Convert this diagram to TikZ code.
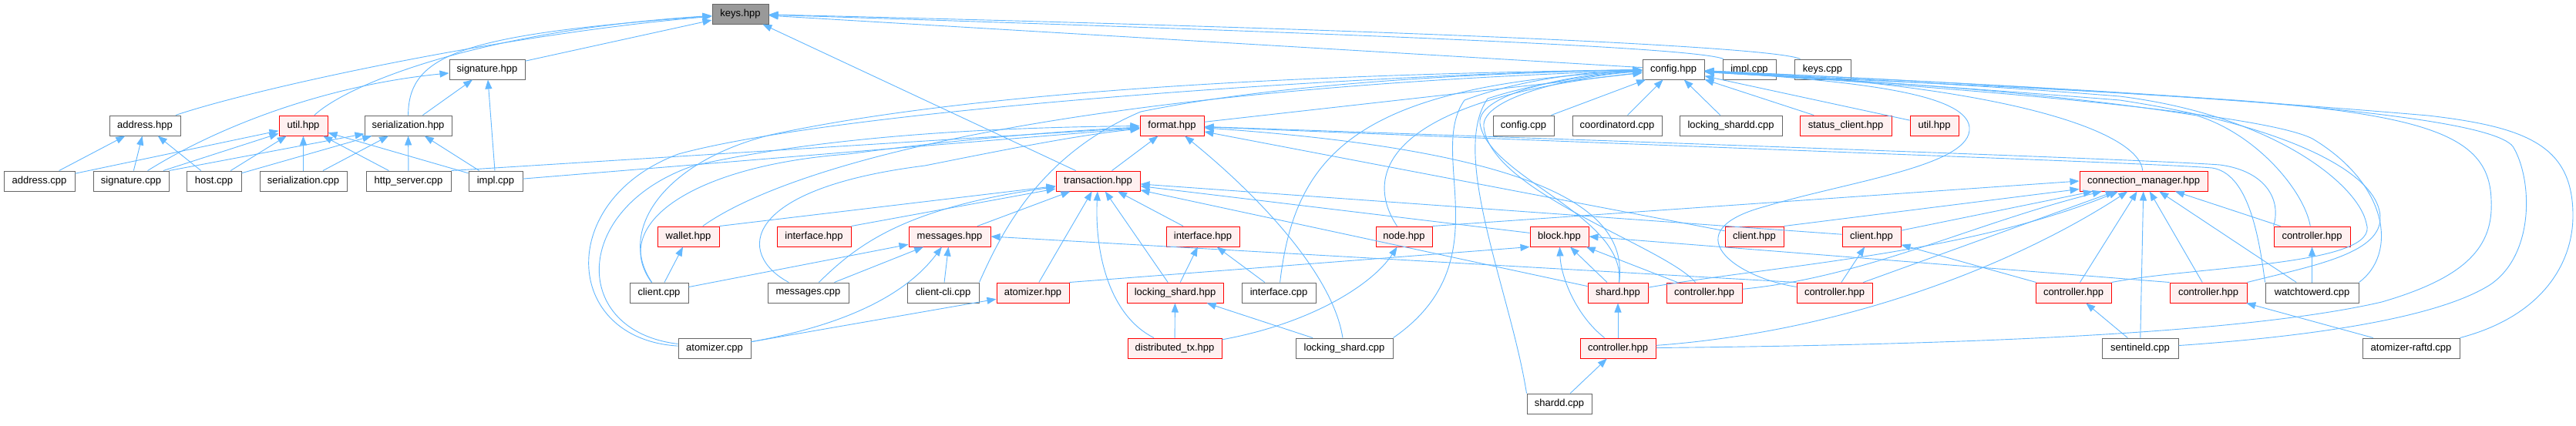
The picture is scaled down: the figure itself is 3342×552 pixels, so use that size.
\documentclass[tikz,border=0pt]{standalone}
\usepackage{fontspec}
\setmainfont{Liberation Sans}
\usetikzlibrary{arrows.meta}
\definecolor{edgeblue}{HTML}{63B8FF}
\definecolor{boxgray}{HTML}{666666}
\definecolor{rootgray}{HTML}{999999}
\definecolor{hdrfill}{HTML}{FFF0F0}
\definecolor{hdrred}{HTML}{FF0000}

\begin{document}
\begin{tikzpicture}[x=1pt, y=-1pt,
    file/.style={rectangle, draw=boxgray, fill=white, line width=1pt, minimum height=26pt, inner sep=0pt, font=\fontsize{13}{15}\selectfont},
    hdr/.style={file, draw=hdrred, fill=hdrfill},
    root/.style={file, fill=rootgray},
    dep/.style={-{Triangle[length=12pt, width=9pt]}, draw=edgeblue, line width=0.9pt},
]
\path[use as bounding box, fill=white] (0,0) rectangle (3342,552);

\node[root, minimum width=73pt] (keys) at (960.5,18) {keys.hpp};
\node[file, minimum width=98pt] (sighpp) at (632,90) {signature.hpp};
\node[file, minimum width=80pt] (cfghpp) at (2171,90) {config.hpp};
\node[file, minimum width=69pt] (implR) at (2269.5,90) {impl.cpp};
\node[file, minimum width=73pt] (keyscpp) at (2364.5,90) {keys.cpp};
\node[file, minimum width=92pt] (addrhpp) at (188,163) {address.hpp};
\node[hdr, minimum width=63pt] (utilA) at (393.5,163) {util.hpp};
\node[file, minimum width=113pt] (serhpp) at (529.5,163) {serialization.hpp};
\node[hdr, minimum width=83pt] (fmthpp) at (1520.5,163) {format.hpp};
\node[file, minimum width=79pt] (cfgcpp) at (1976.5,163) {config.cpp};
\node[file, minimum width=116pt] (coordcpp) at (2098,163) {coordinatord.cpp};
\node[file, minimum width=133pt] (lsharddcpp) at (2245.5,163) {locking\_shardd.cpp};
\node[hdr, minimum width=119pt] (statushpp) at (2394.5,163) {status\_client.hpp};
\node[hdr, minimum width=63pt] (utilB) at (2509.5,163) {util.hpp};
\node[file, minimum width=92pt] (addrcpp) at (51,235) {address.cpp};
\node[file, minimum width=98pt] (sigcpp) at (170,235) {signature.cpp};
\node[file, minimum width=71pt] (hostcpp) at (277.5,235) {host.cpp};
\node[file, minimum width=113pt] (sercpp) at (393.5,235) {serialization.cpp};
\node[file, minimum width=110pt] (httpcpp) at (530,235) {http\_server.cpp};
\node[file, minimum width=70pt] (implL) at (643,235) {impl.cpp};
\node[hdr, minimum width=109pt] (txhpp) at (1424.5,235) {transaction.hpp};
\node[hdr, minimum width=166pt] (cmhpp) at (2781,235) {connection\_manager.hpp};
\node[hdr, minimum width=80pt] (wallethpp) at (893,307) {wallet.hpp};
\node[hdr, minimum width=96pt] (ifaceA) at (1056,307) {interface.hpp};
\node[hdr, minimum width=106pt] (msghpp) at (1232,307) {messages.hpp};
\node[hdr, minimum width=95pt] (ifaceB) at (1560.5,307) {interface.hpp};
\node[hdr, minimum width=73pt] (nodehpp) at (1821.5,307) {node.hpp};
\node[hdr, minimum width=76pt] (blockhpp) at (2023,307) {block.hpp};
\node[hdr, minimum width=76pt] (clientA) at (2276,307) {client.hpp};
\node[hdr, minimum width=76pt] (clientB) at (2428,307) {client.hpp};
\node[hdr, minimum width=99pt] (ctrlR) at (2999.5,307) {controller.hpp};
\node[file, minimum width=76pt] (clientcpp) at (855,380) {client.cpp};
\node[file, minimum width=105pt] (msgcpp) at (1048.5,380) {messages.cpp};
\node[file, minimum width=93pt] (clicpp) at (1223.5,380) {client-cli.cpp};
\node[hdr, minimum width=94pt] (atomhpp) at (1340,380) {atomizer.hpp};
\node[hdr, minimum width=125pt] (lshardhpp) at (1524.5,380) {locking\_shard.hpp};
\node[file, minimum width=96pt] (ifacecpp) at (1659,380) {interface.cpp};
\node[hdr, minimum width=78pt] (shardhpp) at (2099,380) {shard.hpp};
\node[hdr, minimum width=98pt] (ctrlA) at (2211,380) {controller.hpp};
\node[hdr, minimum width=98pt] (ctrlB) at (2380,380) {controller.hpp};
\node[hdr, minimum width=98pt] (ctrlC) at (2690,380) {controller.hpp};
\node[hdr, minimum width=100pt] (ctrlD) at (2865,380) {controller.hpp};
\node[file, minimum width=121pt] (watchcpp) at (2999.5,380) {watchtowerd.cpp};
\node[file, minimum width=94pt] (atomcpp) at (927,452) {atomizer.cpp};
\node[hdr, minimum width=122pt] (dtxhpp) at (1524,452) {distributed\_tx.hpp};
\node[file, minimum width=126pt] (lshardcpp) at (1744,452) {locking\_shard.cpp};
\node[hdr, minimum width=98pt] (ctrlE) at (2099,452) {controller.hpp};
\node[file, minimum width=99pt] (sentcpp) at (2776.5,452) {sentineld.cpp};
\node[file, minimum width=126pt] (raftcpp) at (3128,452) {atomizer-raftd.cpp};
\node[file, minimum width=84pt] (sharddcpp) at (2023,524) {shardd.cpp};

\draw[dep] (addrhpp) .. controls (330,115) and (650,45) .. (keys);
\draw[dep] (utilA) .. controls (450,110) and (620,40) .. (keys);
\draw[dep] (serhpp) .. controls (530,70) and (600,45) .. (keys);
\draw[dep] (sighpp) -- (keys);
\draw[dep] (cfghpp) -- (keys);
\draw[dep] (implR) .. controls (2200,62) and (1800,45) .. (keys);
\draw[dep] (keyscpp) .. controls (2300,60) and (1800,38) .. (keys);
\draw[dep] (txhpp) -- (keys);

\draw[dep] (sigcpp) .. controls (290,160) and (430,110) .. (sighpp);
\draw[dep] (serhpp) -- (sighpp);
\draw[dep] (implL) -- (sighpp);
\draw[dep] (addrcpp) -- (addrhpp);
\draw[dep] (sigcpp) -- (addrhpp);
\draw[dep] (hostcpp) -- (addrhpp);
\draw[dep] (addrcpp) -- (utilA);
\draw[dep] (sigcpp) -- (utilA);
\draw[dep] (hostcpp) -- (utilA);
\draw[dep] (sercpp) -- (utilA);
\draw[dep] (httpcpp) -- (utilA);
\draw[dep] (implL) -- (utilA);
\draw[dep] (sigcpp.north east) -- (serhpp);
\draw[dep] (hostcpp) -- (serhpp);
\draw[dep] (sercpp) -- (serhpp);
\draw[dep] (httpcpp) -- (serhpp);
\draw[dep] (implL) -- (serhpp);

\draw[dep] (httpcpp.north east) -- (fmthpp);
\draw[dep] (implL) -- (fmthpp);
\draw[dep] (clientcpp) .. controls (790,290) and (900,215) .. (1100,200) .. controls (1250,180) and (1380,170) .. (fmthpp);
\draw[dep] (atomcpp) .. controls (740,430) and (740,270) .. (900,215) .. controls (1100,170) and (1350,165) .. (fmthpp);
\draw[dep] (msgcpp) .. controls (955,330) and (960,245) .. (1200,215) .. controls (1300,195) and (1400,175) .. (fmthpp);
\draw[dep] (txhpp) -- (fmthpp);
\draw[dep] (lshardcpp) .. controls (1730,360) and (1640,260) .. (fmthpp);
\draw[dep] (shardhpp) .. controls (2110,290) and (2050,200) .. (fmthpp);
\draw[dep] (clientA) -- (fmthpp);
\draw[dep] (watchcpp.north west) .. controls (2930,300) and (2915,225) .. (2870,218) .. controls (2800,212) and (2300,195) .. (fmthpp);
\draw[dep] (ctrlR.north west) .. controls (2960,260) and (2940,222) .. (2880,214) .. controls (2800,208) and (2300,190) .. (fmthpp);
\draw[dep] (fmthpp) -- (cfghpp);

\draw[dep] (wallethpp.north east) -- (txhpp);
\draw[dep] (ifaceA.north east) -- (txhpp);
\draw[dep] (msghpp) -- (txhpp);
\draw[dep] (msgcpp) .. controls (1110,320) and (1170,270) .. (txhpp);
\draw[dep] (atomhpp) -- (txhpp);
\draw[dep] (dtxhpp) .. controls (1440,410) and (1420,330) .. (txhpp);
\draw[dep] (lshardhpp) -- (txhpp);
\draw[dep] (ifaceB) -- (txhpp);
\draw[dep] (clientB) -- (txhpp);
\draw[dep] (blockhpp) -- (txhpp);
\draw[dep] (shardhpp) -- (txhpp);

\draw[dep] (clientcpp) -- (wallethpp);
\draw[dep] (clientcpp) -- (msghpp);
\draw[dep] (msgcpp) -- (msghpp);
\draw[dep] (atomcpp) .. controls (1080,425) and (1170,390) .. (msghpp);
\draw[dep] (clicpp) -- (msghpp);
\draw[dep] (ctrlB.north west) -- (msghpp.east);
\draw[dep] (atomcpp) -- (atomhpp);
\draw[dep] (lshardhpp) -- (ifaceB);
\draw[dep] (ifacecpp) -- (ifaceB);
\draw[dep] (dtxhpp) -- (lshardhpp);
\draw[dep] (lshardcpp) -- (lshardhpp);
\draw[dep] (dtxhpp) .. controls (1700,420) and (1780,370) .. (nodehpp);

\draw[dep] (atomhpp.north east) -- (blockhpp.south west);
\draw[dep] (shardhpp) -- (blockhpp);
\draw[dep] (ctrlA) -- (blockhpp);
\draw[dep] (ctrlE) .. controls (2045,410) and (2025,360) .. (blockhpp);
\draw[dep] (ctrlD.north west) -- (blockhpp.east);
\draw[dep] (ctrlE) -- (shardhpp);
\draw[dep] (sharddcpp) -- (ctrlE);
\draw[dep] (ctrlB) -- (clientB);
\draw[dep] (ctrlC) -- (clientB);
\draw[dep] (sentcpp) -- (ctrlC);
\draw[dep] (raftcpp) -- (ctrlD);
\draw[dep] (watchcpp) -- (ctrlR);

\draw[dep] (nodehpp.north east) -- (cmhpp.west);
\draw[dep] (clientA.north east) -- (cmhpp);
\draw[dep] (clientB) -- (cmhpp);
\draw[dep] (shardhpp) .. controls (2300,345) and (2550,330) .. (cmhpp);
\draw[dep] (ctrlA) .. controls (2420,360) and (2560,290) .. (cmhpp);
\draw[dep] (ctrlB) -- (cmhpp);
\draw[dep] (ctrlE) .. controls (2400,430) and (2620,340) .. (cmhpp);
\draw[dep] (ctrlC) -- (cmhpp);
\draw[dep] (sentcpp) -- (cmhpp);
\draw[dep] (ctrlD) -- (cmhpp);
\draw[dep] (watchcpp) -- (cmhpp);
\draw[dep] (ctrlR) -- (cmhpp);

\draw[dep] (cfgcpp) -- (cfghpp);
\draw[dep] (coordcpp) -- (cfghpp);
\draw[dep] (lsharddcpp) -- (cfghpp);
\draw[dep] (statushpp) -- (cfghpp);
\draw[dep] (utilB) -- (cfghpp);
\draw[dep] (cmhpp) .. controls (2775,170) and (2600,110) .. (cfghpp);
\draw[dep] (wallethpp) .. controls (1000,230) and (1300,120) .. (cfghpp);
\draw[dep] (clientcpp) .. controls (800,300) and (860,210) .. (1000,175) .. controls (1300,110) and (1800,95) .. (cfghpp);
\draw[dep] (atomcpp) .. controls (730,440) and (720,260) .. (880,200) .. controls (1100,140) and (1800,95) .. (cfghpp);
\draw[dep] (clicpp.north east) .. controls (1300,300) and (1350,200) .. (1480,145) .. controls (1650,110) and (1900,95) .. (cfghpp);
\draw[dep] (ifacecpp) .. controls (1680,200) and (1760,110) .. (cfghpp);
\draw[dep] (nodehpp) .. controls (1770,230) and (1790,130) .. (cfghpp);
\draw[dep] (lshardcpp.north east) .. controls (1950,340) and (1850,200) .. (1900,130) .. controls (1980,100) and (2080,92) .. (cfghpp);
\draw[dep] (sharddcpp.north west) .. controls (1960,380) and (1880,200) .. (1930,128) .. controls (1990,108) and (2080,95) .. (cfghpp);
\draw[dep] (shardhpp) .. controls (2110,280) and (1930,230) .. (1920,160) .. controls (1915,120) and (2050,95) .. (cfghpp);
\draw[dep] (ctrlA) .. controls (2160,320) and (1935,250) .. (1925,165) .. controls (1920,125) and (2050,98) .. (cfghpp);
\draw[dep] (ctrlB) .. controls (2250,360) and (2170,300) .. (2290,268) .. controls (2400,235) and (2560,215) .. (2555,165) .. controls (2550,120) and (2400,105) .. (cfghpp);
\draw[dep] (ctrlC.north east) .. controls (2850,345) and (3090,345) .. (3070,290) .. controls (3060,240) and (2950,150) .. (2750,125) .. controls (2500,105) and (2300,98) .. (cfghpp);
\draw[dep] (ctrlD.north east) .. controls (3000,345) and (3085,330) .. (3088,285) .. controls (3090,220) and (2950,160) .. (2750,130) .. controls (2500,110) and (2300,98) .. (cfghpp);
\draw[dep] (watchcpp.north east) .. controls (3110,330) and (3100,240) .. (3000,180) .. controls (2920,140) and (2400,105) .. (cfghpp);
\draw[dep] (ctrlR) .. controls (2990,250) and (2930,175) .. (2850,150) .. controls (2600,110) and (2300,100) .. (cfghpp);
\draw[dep] (ctrlE) .. controls (2500,448) and (2900,436) .. (3090,392) .. controls (3200,360) and (3235,320) .. (3232,260) .. controls (3230,180) and (3160,150) .. (2900,130) .. controls (2600,110) and (2300,100) .. (cfghpp);
\draw[dep] (sentcpp) .. controls (2950,440) and (3150,420) .. (3230,370) .. controls (3290,330) and (3285,230) .. (3260,190) .. controls (3220,140) and (2700,115) .. (cfghpp);
\draw[dep] (raftcpp.north east) .. controls (3300,410) and (3338,340) .. (3338,280) .. controls (3338,190) and (3280,165) .. (3150,150) .. controls (2800,120) and (2400,100) .. (cfghpp);
\end{tikzpicture}
\end{document}
